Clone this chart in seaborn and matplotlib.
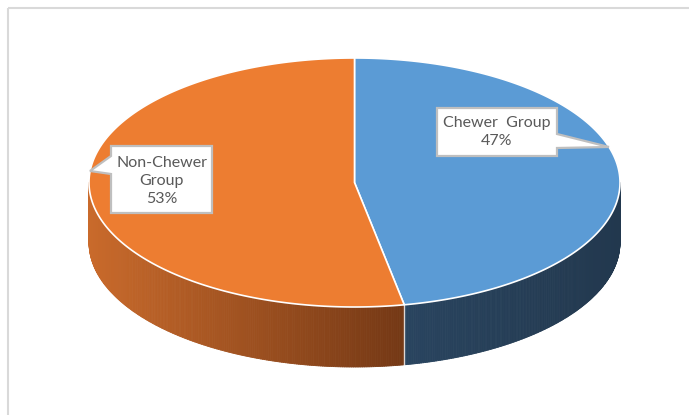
import numpy as np
import matplotlib
matplotlib.use("Agg")
import matplotlib.pyplot as plt
import seaborn as sns
from matplotlib.collections import PolyCollection
from matplotlib.patches import Polygon, Rectangle
from matplotlib.colors import to_rgb

# ---- data ----
categories = ["Chewer  Group", "Non-Chewer\nGroup"]
values = [47, 53]
top_colors = ["#5b9bd5", "#ed7d31"]
side_left_colors = ["#29445f", "#c96a2b"]
side_right_colors = ["#22384e", "#743815"]

sns.set_theme(style="white")
plt.rcParams['font.family'] = ['Lato', 'DejaVu Sans']

fig = plt.figure(figsize=(6.89, 4.15), dpi=100)
ax = fig.add_axes([0, 0, 1, 1])
ax.set_xlim(0, 689)
ax.set_ylim(415, 0)
ax.axis('off')

cx, cy, a, b, depth = 354.5, 182.5, 265.5, 124.5, 60.0


def pt(th, dy=0.0):
    r = np.deg2rad(th)
    return (cx + a * np.cos(r), cy - b * np.sin(r) + dy)


total = float(sum(values))
start = 90.0
wedges = []
for v in values:
    sweep = v / total * 360.0
    wedges.append((start, start - sweep))
    start -= sweep

# sides
for i, (t0, t1) in enumerate(wedges):
    ths = np.linspace(t0, t1, 400)
    polys, cols = [], []
    xs_vis = [pt(t)[0] for t in ths if np.sin(np.deg2rad(t)) < 0]
    if not xs_vis:
        continue
    xmin, xmax = min(xs_vis), max(xs_vis)
    cl, cr = np.array(to_rgb(side_left_colors[i])), np.array(to_rgb(side_right_colors[i]))
    for k in range(len(ths) - 1):
        m = 0.5 * (ths[k] + ths[k + 1])
        if np.sin(np.deg2rad(m)) >= 0:
            continue
        p1, p2 = pt(ths[k]), pt(ths[k + 1])
        q2, q1 = pt(ths[k + 1], depth), pt(ths[k], depth)
        polys.append([p1, p2, q2, q1])
        f = ((p1[0] + p2[0]) / 2 - xmin) / max(xmax - xmin, 1)
        cols.append(cl * (1 - f) + cr * f)
    ax.add_collection(PolyCollection(polys, facecolors=cols, edgecolors=cols, linewidths=0.6))

# split line on side
ts = wedges[0][1]
if np.sin(np.deg2rad(ts)) < 0:
    p, q = pt(ts), pt(ts, depth)
    ax.plot([p[0], q[0]], [p[1], q[1]], color="white", lw=1.0, alpha=0.8)

# tops
for i, (t0, t1) in enumerate(wedges):
    ths = np.linspace(t0, t1, 300)
    verts = [(cx, cy)] + [pt(t) for t in ths]
    ax.add_patch(Polygon(verts, closed=True, facecolor=top_colors[i],
                         edgecolor="white", lw=1.2))

# callouts
box_style = dict(facecolor="white", edgecolor="#bfbfbf", lw=1.6, zorder=5)
# Chewer
c0 = [(437, 108), (557, 108), (557, 134), (609, 147), (557, 148), (557, 156), (437, 156)]
ax.add_patch(Polygon(c0, closed=True, **box_style))
ax.text(497, 132, f"{categories[0]}\n{values[0]}%", ha="center", va="center",
        fontsize=11.5, color="#595959", linespacing=1.4, zorder=6)
# Non-Chewer
c1 = [(111, 146), (212, 146), (212, 213), (111, 213), (111, 174), (90, 171), (111, 156)]
ax.add_patch(Polygon(c1, closed=True, **box_style))
ax.text(161.5, 181, f"{categories[1]}\n{values[1]}%", ha="center", va="center",
        fontsize=11.5, color="#595959", linespacing=1.4, zorder=6)

# chart frame
ax.add_patch(Rectangle((8, 8), 700, 430, fill=False, edgecolor="#d9d9d9", lw=1.5, zorder=10))

fig.savefig("out.png", dpi=100, facecolor="white")
